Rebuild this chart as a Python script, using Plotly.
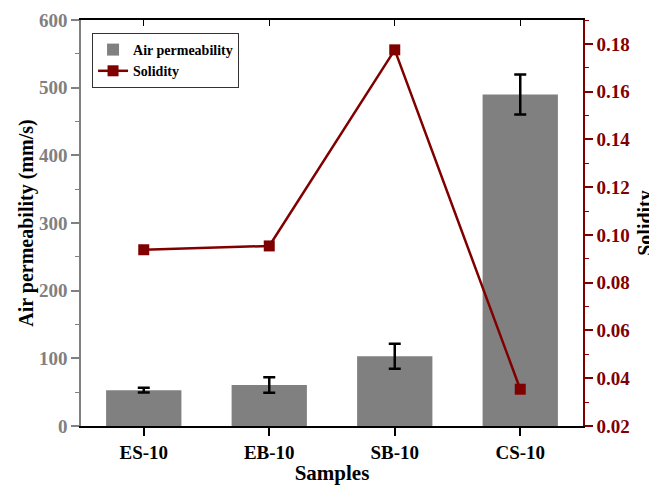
import plotly.graph_objects as go

samples = ["ES-10", "EB-10", "SB-10", "CS-10"]
air_perm = [53, 60.5, 103, 490]
air_perm_err = [3.5, 11.5, 18.5, 29.5]
solidity = [0.0938, 0.0954, 0.1775, 0.0354]

FONT = "Liberation Serif"
GRAY = "#808080"
RED = "#800000"

fig = go.Figure()
fig.add_trace(go.Bar(
    x=samples, y=air_perm, name="Air permeability",
    marker=dict(color=GRAY, line=dict(width=0)), width=0.6,
    error_y=dict(type="data", array=air_perm_err, color="black", thickness=2.5, width=6),
    yaxis="y", xaxis="x",
))
fig.add_trace(go.Scatter(
    x=samples, y=solidity, name="Solidity", mode="lines+markers",
    line=dict(color=RED, width=2.5),
    marker=dict(symbol="square", size=11, color=RED),
    yaxis="y2", xaxis="x",
))
# invisible trace to host the top mirror axis
fig.add_trace(go.Scatter(x=samples, y=[None]*4, xaxis="x2", yaxis="y",
                         showlegend=False, hoverinfo="skip", mode="markers"))

# page body has an 8px margin, so the figure is sized to fit within the window
fig.update_layout(
    width=649, height=480,
    margin=dict(l=73, r=74, t=12, b=62, autoexpand=False),
    paper_bgcolor="white", plot_bgcolor="white",
    font=dict(family=FONT, color="black"),
    showlegend=True,
    legend=dict(x=0.022, y=0.968, xanchor="left", yanchor="top",
                bgcolor="white", bordercolor="#333", borderwidth=1,
                font=dict(family=FONT, size=14, color="black", weight="bold"),
                tracegroupgap=0, itemwidth=30),
    bargap=0.4,
    xaxis=dict(
        type="category", range=[-0.5, 3.5], automargin=False,
        showline=True, linecolor="black", linewidth=1.5,
        ticks="outside", ticklen=8, tickwidth=1.5, tickcolor="black",
        minor=dict(ticks="outside", ticklen=4, tickwidth=1, tickcolor="black"),
        tickfont=dict(family=FONT, size=19, color="black", weight="bold"),
        title=dict(text="Samples", font=dict(family=FONT, size=21, color="black", weight="bold"), standoff=4),
        showgrid=False, zeroline=False,
    ),
    xaxis2=dict(
        type="category", range=[-0.5, 3.5], overlaying="x", side="top", anchor="y",
        automargin=False,
        showline=True, linecolor="black", linewidth=1.5,
        ticks="inside", ticklen=6, tickwidth=1.2, tickcolor="black",
        minor=dict(ticks="inside", ticklen=6, tickwidth=1.2, tickcolor="black"),
        showticklabels=False, showgrid=False, zeroline=False,
    ),
    yaxis=dict(
        range=[0, 600], dtick=100, automargin=False,
        showline=True, linecolor=GRAY, linewidth=1.5,
        ticks="outside", ticklen=8, tickwidth=1.5, tickcolor=GRAY,
        minor=dict(dtick=50, ticks="outside", ticklen=4, tickwidth=1, tickcolor=GRAY),
        tickfont=dict(family=FONT, size=19, color=GRAY, weight="bold"),
        title=dict(text="Air permeability (mm/s)", font=dict(family=FONT, size=20, color="black", weight="bold"), standoff=0),
        showgrid=False, zeroline=False,
    ),
    yaxis2=dict(
        range=[0.02, 0.19], dtick=0.02, tick0=0.02, tickformat=".2f",
        overlaying="y", side="right", anchor="x", automargin=False,
        showline=True, linecolor=RED, linewidth=1.5,
        ticks="outside", ticklen=8, tickwidth=1.5, tickcolor=RED,
        minor=dict(dtick=0.01, ticks="outside", ticklen=4, tickwidth=1, tickcolor=RED),
        tickfont=dict(family=FONT, size=19, color=RED, weight="bold"),
        title=dict(text="Solidity", font=dict(family=FONT, size=20, color="black", weight="bold"), standoff=10),
        showgrid=False, zeroline=False,
    ),
)

fig.write_html("out.html")
